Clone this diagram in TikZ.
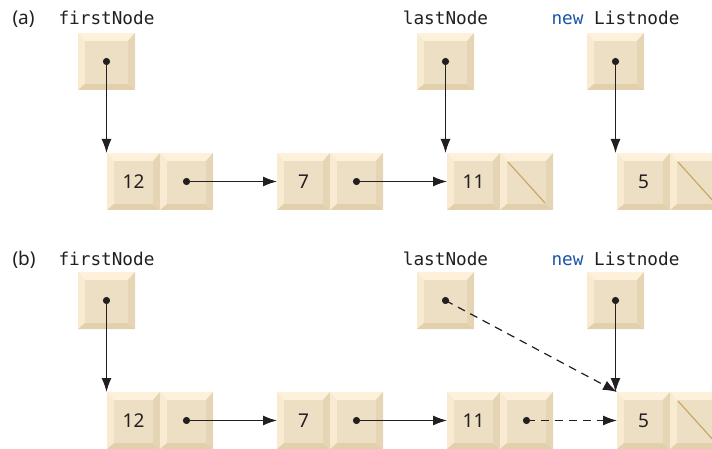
\documentclass[tikz,border=0pt]{standalone}
\usepackage{fontspec}
\setmainfont{Noto Sans}
\setmonofont{DejaVu Sans Mono}
\usetikzlibrary{arrows.meta,positioning,calc}
\definecolor{cellTop}{RGB}{253,241,220}
\definecolor{cellLeft}{RGB}{249,235,210}
\definecolor{cellFace}{RGB}{237,223,195}
\definecolor{cellRight}{RGB}{229,213,181}
\definecolor{cellBottom}{RGB}{226,208,173}
\definecolor{nullGold}{RGB}{201,168,100}
\definecolor{keywordBlue}{RGB}{25,85,165}
\definecolor{inkDark}{RGB}{35,31,32}
\newcommand{\ppbb}{path picture bounding box}
\tikzset{
  cell/.style={rectangle,minimum width=53pt,minimum height=57pt,inner sep=0pt,outer sep=0pt,
    fill=cellTop,text=inkDark,font=\fontsize{19}{19}\selectfont,
    path picture={
      \fill[cellLeft] (\ppbb.north west) -- ([shift={(7pt,-8pt)}]\ppbb.north west) -- ([shift={(7pt,6pt)}]\ppbb.south west) -- (\ppbb.south west) -- cycle;
      \fill[cellBottom] (\ppbb.south west) -- ([shift={(7pt,6pt)}]\ppbb.south west) -- ([shift={(-7pt,6pt)}]\ppbb.south east) -- (\ppbb.south east) -- cycle;
      \fill[cellRight] (\ppbb.south east) -- ([shift={(-7pt,6pt)}]\ppbb.south east) -- ([shift={(-7pt,-8pt)}]\ppbb.north east) -- (\ppbb.north east) -- cycle;
      \fill[cellFace] ([shift={(7pt,-8pt)}]\ppbb.north west) rectangle ([shift={(-7pt,6pt)}]\ppbb.south east);
    }},
  ptrbox/.style={cell,minimum width=57pt},
  varname/.style={anchor=base,text=inkDark,font=\fontsize{17.7}{20}\selectfont\ttfamily},
  tag/.style={anchor=base west,text=inkDark,font=\fontsize{19}{20}\selectfont},
  ptr/.style={-{Latex[length=14pt,width=10pt]},line width=1.2pt,draw=inkDark},
  newptr/.style={ptr,dash pattern=on 8pt off 6pt},
  nulllink/.style={line width=1.2pt,draw=nullGold},
  dot/.style={fill=inkDark}
}

\begin{document}
\begin{tikzpicture}[x=1pt,y=-1pt]
\useasboundingbox (0,0) rectangle (712,449);
% (a)
\node[tag] (tagA) at (9,25) {(a)};
\node[varname] (firstNameA) at (106.5,25) {firstNode};
\node[varname] (lastNameA) at (445.5,25) {lastNode};
\node[varname] (newNameA) at (615.5,25) {{\color{keywordBlue}new} Listnode};
\node[ptrbox] (firstA) at (106.5,61.5) {};
\node[ptrbox] (lastA) at (445.5,61.5) {};
\node[ptrbox] (newA) at (615.5,61.5) {};
\node[cell] (n12a) at (133.5,181.5) {12};
\node[cell,right=0pt of n12a] (n12aLink) {};
\node[cell] (n7a) at (303.5,181.5) {7};
\node[cell,right=0pt of n7a] (n7aLink) {};
\node[cell] (n11a) at (473.5,181.5) {11};
\node[cell,right=0pt of n11a] (n11aLink) {};
\node[cell] (n5a) at (643.5,181.5) {5};
\node[cell,right=0pt of n5a] (n5aLink) {};
\draw[nulllink] ([shift={(8pt,-9pt)}]n11aLink.north west) -- ([shift={(-8pt,7pt)}]n11aLink.south east);
\draw[nulllink] ([shift={(8pt,-9pt)}]n5aLink.north west) -- ([shift={(-8pt,7pt)}]n5aLink.south east);
\draw[ptr] (firstA.center) -- (firstA.center |- n12a.north);
\draw[ptr] (lastA.center) -- (lastA.center |- n11a.north);
\draw[ptr] (newA.center) -- (newA.center |- n5a.north);
\draw[ptr] (n12aLink.center) -- (n7a.west);
\draw[ptr] (n7aLink.center) -- (n11a.west);
\foreach \p in {firstA,lastA,newA,n12aLink,n7aLink}
  \fill[dot] (\p.center) circle (3.6pt);
% (b)
\node[tag] (tagB) at (9,265) {(b)};
\node[varname] (firstNameB) at (106.5,265) {firstNode};
\node[varname] (lastNameB) at (445.5,265) {lastNode};
\node[varname] (newNameB) at (615.5,265) {{\color{keywordBlue}new} Listnode};
\node[ptrbox] (firstB) at (106.5,300.5) {};
\node[ptrbox] (lastB) at (445.5,300.5) {};
\node[ptrbox] (newB) at (615.5,300.5) {};
\node[cell] (n12b) at (133.5,420.5) {12};
\node[cell,right=0pt of n12b] (n12bLink) {};
\node[cell] (n7b) at (303.5,420.5) {7};
\node[cell,right=0pt of n7b] (n7bLink) {};
\node[cell] (n11b) at (473.5,420.5) {11};
\node[cell,right=0pt of n11b] (n11bLink) {};
\node[cell] (n5b) at (643.5,420.5) {5};
\node[cell,right=0pt of n5b] (n5bLink) {};
\draw[nulllink] ([shift={(8pt,-9pt)}]n5bLink.north west) -- ([shift={(-8pt,7pt)}]n5bLink.south east);
\draw[ptr] (firstB.center) -- (firstB.center |- n12b.north);
\draw[ptr] (newB.center) -- (newB.center |- n5b.north);
\draw[ptr] (n12bLink.center) -- (n7b.west);
\draw[ptr] (n7bLink.center) -- (n11b.west);
\draw[newptr] (lastB.center) -- (n5b.north west);
\draw[newptr] (n11bLink.center) -- (n5b.west);
\foreach \p in {firstB,lastB,newB,n12bLink,n7bLink,n11bLink}
  \fill[dot] (\p.center) circle (3.6pt);
\end{tikzpicture}
\end{document}
